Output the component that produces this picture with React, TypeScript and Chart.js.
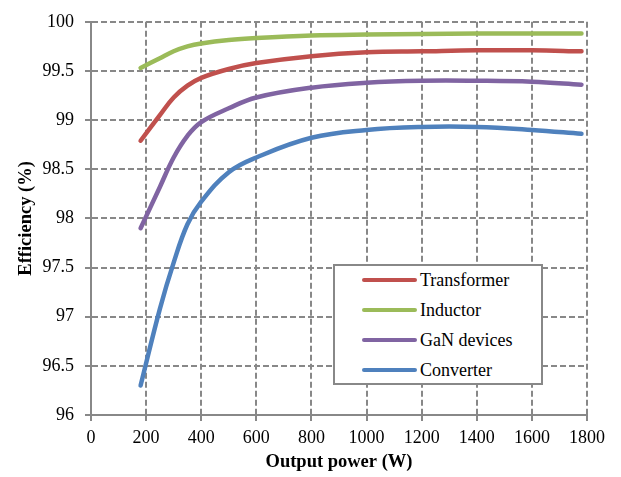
import React, { useEffect, useRef } from "react";
import { Chart, registerables } from "chart.js";

Chart.register(...registerables);

const powerW = [180, 250, 300, 350, 400, 500, 600, 800, 1000, 1200, 1400, 1600, 1780];
const transformer = [98.79, 99.05, 99.23, 99.35, 99.43, 99.52, 99.58, 99.65, 99.69, 99.7, 99.71, 99.71, 99.7];
const inductor = [99.53, 99.63, 99.7, 99.75, 99.78, 99.815, 99.835, 99.86, 99.87, 99.875, 99.88, 99.88, 99.88];
const ganDevices = [97.9, 98.32, 98.62, 98.84, 98.98, 99.12, 99.23, 99.33, 99.38, 99.4, 99.4, 99.39, 99.36];
const converter = [96.3, 97.08, 97.55, 97.94, 98.17, 98.47, 98.62, 98.82, 98.9, 98.93, 98.93, 98.9, 98.86];

const seriesNames = ["Transformer", "Inductor", "GaN devices", "Converter"];
const seriesColors = ["#C0504D", "#9BBB59", "#8064A2", "#4F81BD"];
const seriesValues = [transformer, inductor, ganDevices, converter];

const FONT = "'Liberation Serif', 'Times New Roman', serif";

export default function App() {
  const ref = useRef<HTMLCanvasElement | null>(null);

  useEffect(() => {
    document.body.style.margin = "0";
    const ctx = ref.current!.getContext("2d")!;
    const chart = new Chart(ctx, {
      type: "line",
      data: {
        datasets: seriesNames.map((name, i) => ({
          label: name,
          data: powerW.map((x, j) => ({ x, y: seriesValues[i][j] })),
          borderColor: seriesColors[i],
          backgroundColor: seriesColors[i],
          borderWidth: 4.5,
          pointRadius: 0,
          tension: 0.4,
          borderCapStyle: "round" as const,
          fill: false,
        })),
      },
      options: {
        animation: false,
        responsive: false,
        maintainAspectRatio: false,
        layout: { padding: { left: 0, right: 34, top: 19, bottom: 0 } },
        plugins: { legend: { display: false }, tooltip: { enabled: false } },
        scales: {
          x: {
            type: "linear",
            min: 0,
            max: 1800,
            ticks: {
              stepSize: 200,
              color: "#000",
              font: { family: FONT, size: 18 },
              padding: 6,
              maxRotation: 0,
              callback: (v: any) => String(v),
            },
            grid: { color: "#888", lineWidth: 2, tickLength: 6, tickColor: "#888" },
            border: { color: "#888", width: 2, dash: [6, 3] },
            title: {
              display: true,
              text: "Output power (W)",
              color: "#000",
              font: { family: FONT, size: 18.5, weight: "bold" },
              padding: { top: 4 },
            },
            afterFit: (s: any) => {
              s.height = 62;
            },
          },
          y: {
            min: 96,
            max: 100,
            ticks: {
              stepSize: 0.5,
              color: "#000",
              font: { family: FONT, size: 18 },
              padding: 11,
              callback: (v: any) => String(v),
            },
            grid: { color: "#888", lineWidth: 2, tickLength: 6, tickColor: "#888" },
            border: { color: "#888", width: 2, dash: [6, 3] },
            title: {
              display: true,
              text: "Efficiency (%)",
              color: "#000",
              font: { family: FONT, size: 18.5, weight: "bold" },
              padding: { top: 15, bottom: 4 },
            },
            afterFit: (s: any) => {
              s.width = 91;
            },
          },
        },
      },
    } as any);
    return () => chart.destroy();
  }, []);

  return (
    <div style={{ position: "relative", width: 621, height: 477 }}>
      <canvas ref={ref} width={621} height={477} style={{ display: "block" }} />
      <div
        style={{
          position: "absolute",
          left: 333,
          top: 264,
          width: 206,
          height: 117,
          border: "2px solid #888",
          background: "#fff",
          fontFamily: FONT,
          fontSize: 18,
          color: "#000",
        }}
      >
        {seriesNames.map((name, i) => (
          <div
            key={name}
            style={{
              position: "absolute",
              left: 27,
              top: 1 + i * 30,
              height: 26,
              display: "flex",
              alignItems: "center",
              whiteSpace: "nowrap",
            }}
          >
            <span
              style={{
                display: "inline-block",
                width: 55,
                height: 4,
                borderRadius: 2,
                background: seriesColors[i],
                marginRight: 3,
              }}
            />
            <span>{name}</span>
          </div>
        ))}
      </div>
    </div>
  );
}
